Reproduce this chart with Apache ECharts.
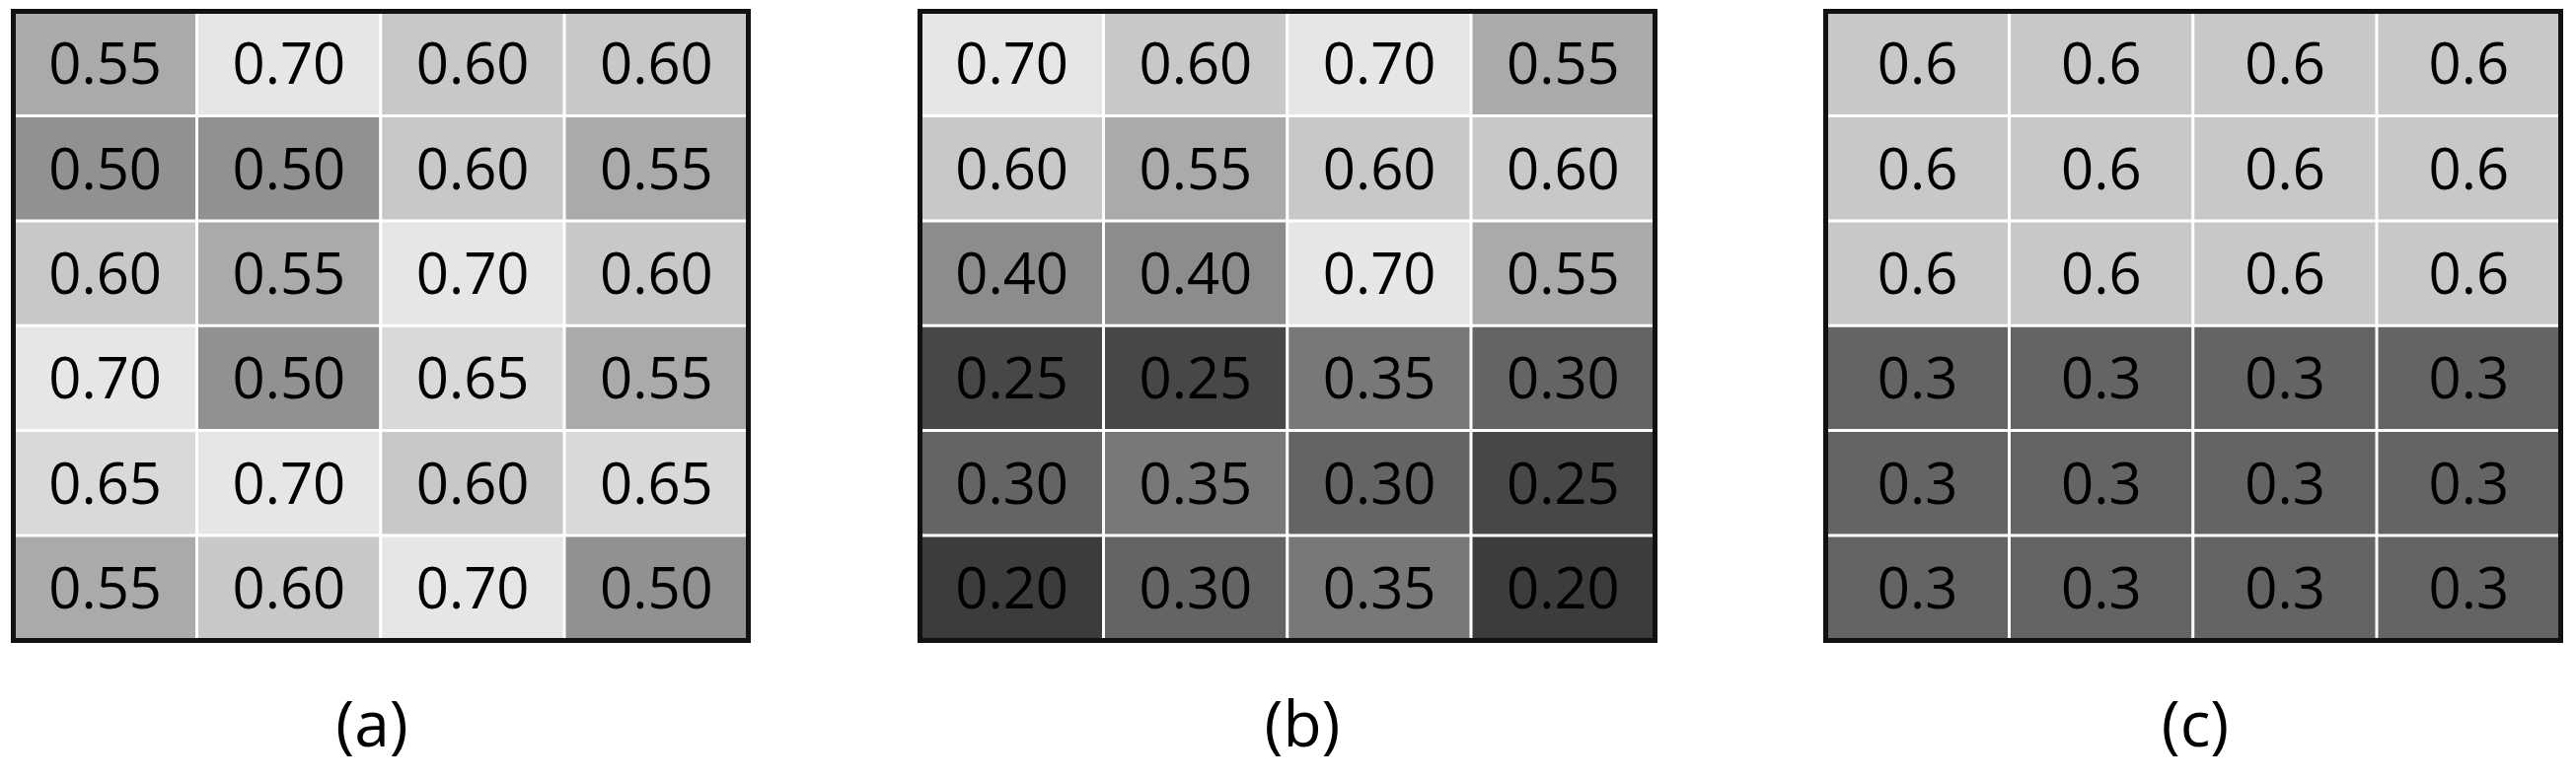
<!DOCTYPE html>
<html>
<head>
<meta charset="utf-8">
<script src="https://cdn.jsdelivr.net/npm/echarts@6/dist/echarts.min.js"></script>
<style>
  html, body { margin: 0; padding: 0; background: #fff; }
  #chart { width: 2611px; height: 792px; }
</style>
</head>
<body>
<div id="chart"></div>
<script>
// columns and rows of each grid
const cols = ['c1', 'c2', 'c3', 'c4']
const rows = ['r1', 'r2', 'r3', 'r4', 'r5', 'r6']

// values, row by row from the top
const valuesA = [
  [0.55, 0.70, 0.60, 0.60],
  [0.50, 0.50, 0.60, 0.55],
  [0.60, 0.55, 0.70, 0.60],
  [0.70, 0.50, 0.65, 0.55],
  [0.65, 0.70, 0.60, 0.65],
  [0.55, 0.60, 0.70, 0.50]
]
const valuesB = [
  [0.70, 0.60, 0.70, 0.55],
  [0.60, 0.55, 0.60, 0.60],
  [0.40, 0.40, 0.70, 0.55],
  [0.25, 0.25, 0.35, 0.30],
  [0.30, 0.35, 0.30, 0.25],
  [0.20, 0.30, 0.35, 0.20]
]
const valuesC = [
  [0.6, 0.6, 0.6, 0.6],
  [0.6, 0.6, 0.6, 0.6],
  [0.6, 0.6, 0.6, 0.6],
  [0.3, 0.3, 0.3, 0.3],
  [0.3, 0.3, 0.3, 0.3],
  [0.3, 0.3, 0.3, 0.3]
]
const panelLabels = ['(a)', '(b)', '(c)']

// grey shade for each value
const shades = [
  { value: 0.20, color: '#3c3c3c' },
  { value: 0.25, color: '#474747' },
  { value: 0.30, color: '#646464' },
  { value: 0.35, color: '#787878' },
  { value: 0.40, color: '#8c8c8c' },
  { value: 0.50, color: '#919191' },
  { value: 0.55, color: '#aaaaaa' },
  { value: 0.60, color: '#c8c8c8' },
  { value: 0.65, color: '#d9d9d9' },
  { value: 0.70, color: '#e6e6e6' }
]

function toCells(values) {
  const out = []
  values.forEach((row, y) => {
    row.forEach((v, x) => out.push([x, y, v]))
  })
  return out
}

const myChart = echarts.init(document.getElementById('chart'))

const gridLefts = [13.5, 932.5, 1850.5]
const labelCenters = [377, 1320, 2225]
const decimals = [2, 2, 1]
const allValues = [valuesA, valuesB, valuesC]

const option = {
  animation: false,
  title: panelLabels.map((t, i) => ({
    text: t,
    left: labelCenters[i],
    top: 707,
    textAlign: 'center',
    padding: 0,
    textStyle: {
      fontFamily: 'Open Sans',
      fontWeight: 'normal',
      fontSize: 64,
      color: '#000'
    }
  })),
  grid: gridLefts.map(l => ({
    left: l,
    top: 11.5,
    width: 745,
    height: 638,
    show: true,
    z: 10,
    backgroundColor: 'transparent',
    borderColor: '#111',
    borderWidth: 5
  })),
  xAxis: gridLefts.map((l, i) => ({
    type: 'category',
    gridIndex: i,
    data: cols,
    show: false
  })),
  yAxis: gridLefts.map((l, i) => ({
    type: 'category',
    gridIndex: i,
    data: rows,
    inverse: true,
    show: false
  })),
  visualMap: {
    type: 'piecewise',
    show: false,
    dimension: 2,
    seriesIndex: [0, 1, 2],
    pieces: shades
  },
  series: allValues.map((vals, i) => ({
    type: 'heatmap',
    xAxisIndex: i,
    yAxisIndex: i,
    data: toCells(vals),
    itemStyle: {
      borderColor: '#fff',
      borderWidth: 3
    },
    label: {
      show: true,
      fontFamily: 'Open Sans',
      fontSize: 58,
      color: '#000',
      offset: [0, 4],
      formatter: p => p.value[2].toFixed(decimals[i])
    },
    emphasis: { disabled: true }
  }))
}

myChart.setOption(option)

window.addEventListener('resize', () => {
  myChart.resize()
})
</script>
</body>
</html>
